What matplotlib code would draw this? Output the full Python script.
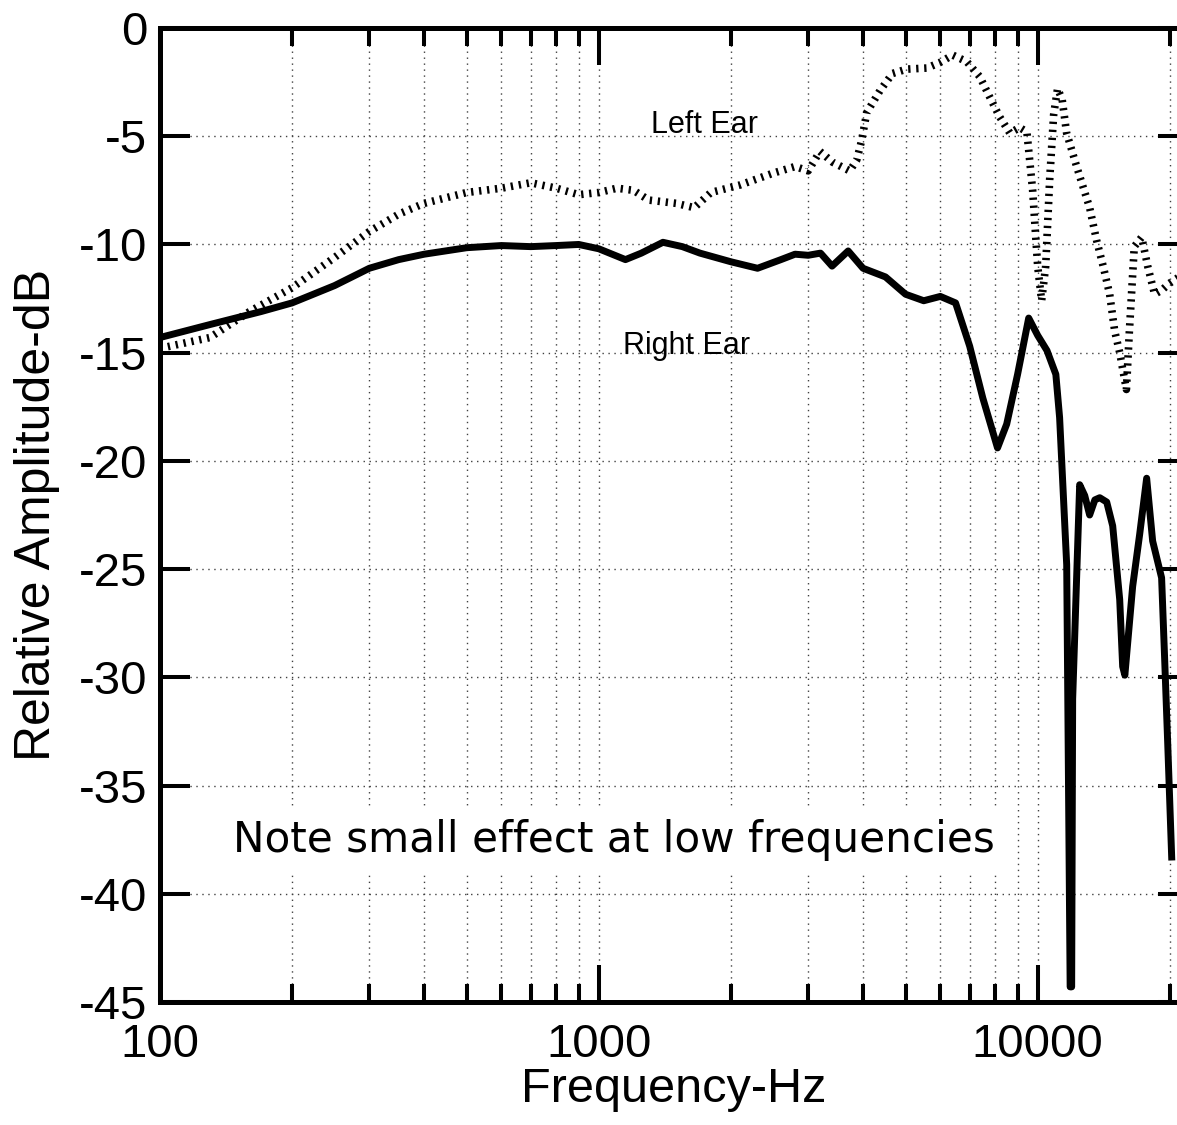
import matplotlib
matplotlib.use('Agg')
import matplotlib.pyplot as plt
from matplotlib.ticker import NullFormatter

plt.rcParams['axes.unicode_minus'] = False
plt.rcParams['font.family'] = ['Liberation Sans', 'DejaVu Sans']

# right ear (solid)
right_freq = [100, 130, 170, 200, 250, 300, 350, 400, 500, 600, 700, 800, 900, 1000,
              1150, 1250, 1400, 1550, 1700, 2000, 2300, 2600, 2800, 3000, 3200, 3400,
              3700, 4000, 4500, 5000, 5500, 6000, 6500, 7000, 7500, 8100, 8500, 9000,
              9540, 10000, 10500, 11000, 11220, 11645, 11858, 11952, 12015, 12465,
              12800, 13135, 13500, 13850, 14365, 14823, 15378, 15620, 15800, 16460,
              17075, 17715, 18280, 19160, 19465, 19780, 20200]
right_db = [-14.3, -13.7, -13.1, -12.7, -11.9, -11.1, -10.7, -10.45, -10.15, -10.05, -10.1,
            -10.05, -10.0, -10.2, -10.7, -10.4, -9.9, -10.1, -10.4, -10.8, -11.1, -10.7,
            -10.45, -10.5, -10.4, -11.0, -10.3, -11.1, -11.5, -12.3, -12.6, -12.4, -12.7,
            -14.7, -17.1, -19.4, -18.3, -16.0, -13.4, -14.2, -14.9, -16.0, -18.0, -24.8,
            -44.3, -44.3, -31.0, -21.1, -21.6, -22.5, -21.8, -21.7, -21.9, -23.0, -26.4,
            -29.5, -29.9, -25.8, -23.4, -20.8, -23.7, -25.4, -29.1, -33.0, -38.3]

# left ear (dotted)
left_freq = [100, 130, 160, 200, 250, 300, 350, 400, 500, 600, 700, 800, 900, 1000, 1100,
             1200, 1300, 1500, 1650, 1800, 2100, 2500, 2800, 3000, 3190, 3410, 3730, 3870,
             3970, 4080, 4370, 4670, 5030, 5590, 5980, 6400, 6890, 7380, 7780, 8190, 8640,
             9100, 9450, 9740, 10000, 10210, 10430, 10650, 10875, 11100, 11370, 11640,
             12270, 13135, 13620, 14100, 14590, 14980, 15380, 15930, 16170, 16600, 17260,
             17810, 18470, 19210, 19950, 21000]
left_db = [-14.8, -14.3, -13.1, -12.0, -10.6, -9.4, -8.6, -8.1, -7.6, -7.4, -7.15, -7.4,
           -7.7, -7.6, -7.4, -7.5, -7.95, -8.1, -8.3, -7.6, -7.25, -6.7, -6.4, -6.6, -5.7,
           -6.2, -6.6, -6.1, -5.2, -3.9, -2.9, -2.1, -1.9, -1.85, -1.6, -1.25, -1.55, -2.25,
           -3.2, -4.1, -4.85, -4.6, -4.8, -7.5, -11.0, -12.6, -11.0, -7.0, -4.0, -2.8, -3.3,
           -4.85, -6.4, -8.3, -9.8, -11.0, -12.3, -14.0, -15.0, -16.7, -14.1, -10.1, -9.66,
           -11.0, -12.3, -12.1, -11.8, -11.5]

xticks = [100, 1000, 10000]
xtick_labels = ['100', '1000', '10000']
yticks = [0, -5, -10, -15, -20, -25, -30, -35, -40, -45]
ytick_labels = ['0', '-5', '-10', '-15', '-20', '-25', '-30', '-35', '-40', '-45']
minor_x = [m * 10 ** e for e in (2, 3, 4) for m in range(2, 10) if m * 10 ** e < 22000]

fig = plt.figure(figsize=(11.77, 11.25), dpi=100)
ax = fig.add_axes([0.1359, 0.1093, 0.8734, 0.8658])

ax.plot(right_freq, right_db, color='black', lw=5, solid_joinstyle='round', zorder=3)
ax.plot(left_freq, left_db, color='black', lw=5.5, linestyle=(0, (0.3, 0.75)),
        dash_capstyle='butt', zorder=3)

ax.set_xscale('log')
ax.set_xlim(100, 22000)
ax.set_ylim(-45, 0)

ax.set_xticks(xticks, labels=xtick_labels)
ax.set_xticks(minor_x, minor=True)
ax.xaxis.set_minor_formatter(NullFormatter())
ax.set_yticks(yticks, labels=ytick_labels)

for lab in ax.get_xticklabels() + ax.get_yticklabels():
    lab.set_fontsize(34)

ax.tick_params(axis='x', which='major', direction='in', length=26.6, width=2.9,
               top=True, bottom=True, pad=15)
ax.tick_params(axis='x', which='minor', direction='in', length=13, width=2.9,
               top=True, bottom=True)
ax.tick_params(axis='y', which='major', direction='in', length=21.6, width=2.9,
               left=True, right=True, pad=9)

grid_style = dict(color='0.25', lw=1.0, linestyle=(0, (1, 3.3)))
ax.grid(True, which='major', axis='both', **grid_style)
ax.grid(True, which='minor', axis='x', **grid_style)

for sp in ax.spines.values():
    sp.set_linewidth(3.6)

ax.set_xlabel('Frequency-Hz', fontsize=35, labelpad=0)
ax.set_ylabel('Relative Amplitude-dB', fontsize=36, labelpad=14)

ax.text(1744, -4.85, 'Left Ear', ha='center', va='baseline', fontsize=22)
ax.text(1587, -15.07, 'Right Ear', ha='center', va='baseline', fontsize=22)
ax.text(1082, -38.08, 'Note small effect at low frequencies', ha='center', va='baseline',
        fontsize=30.3, fontfamily='DejaVu Sans', zorder=4,
        bbox=dict(facecolor='white', edgecolor='none', pad=8))

fig.savefig('out.png', dpi=100)
